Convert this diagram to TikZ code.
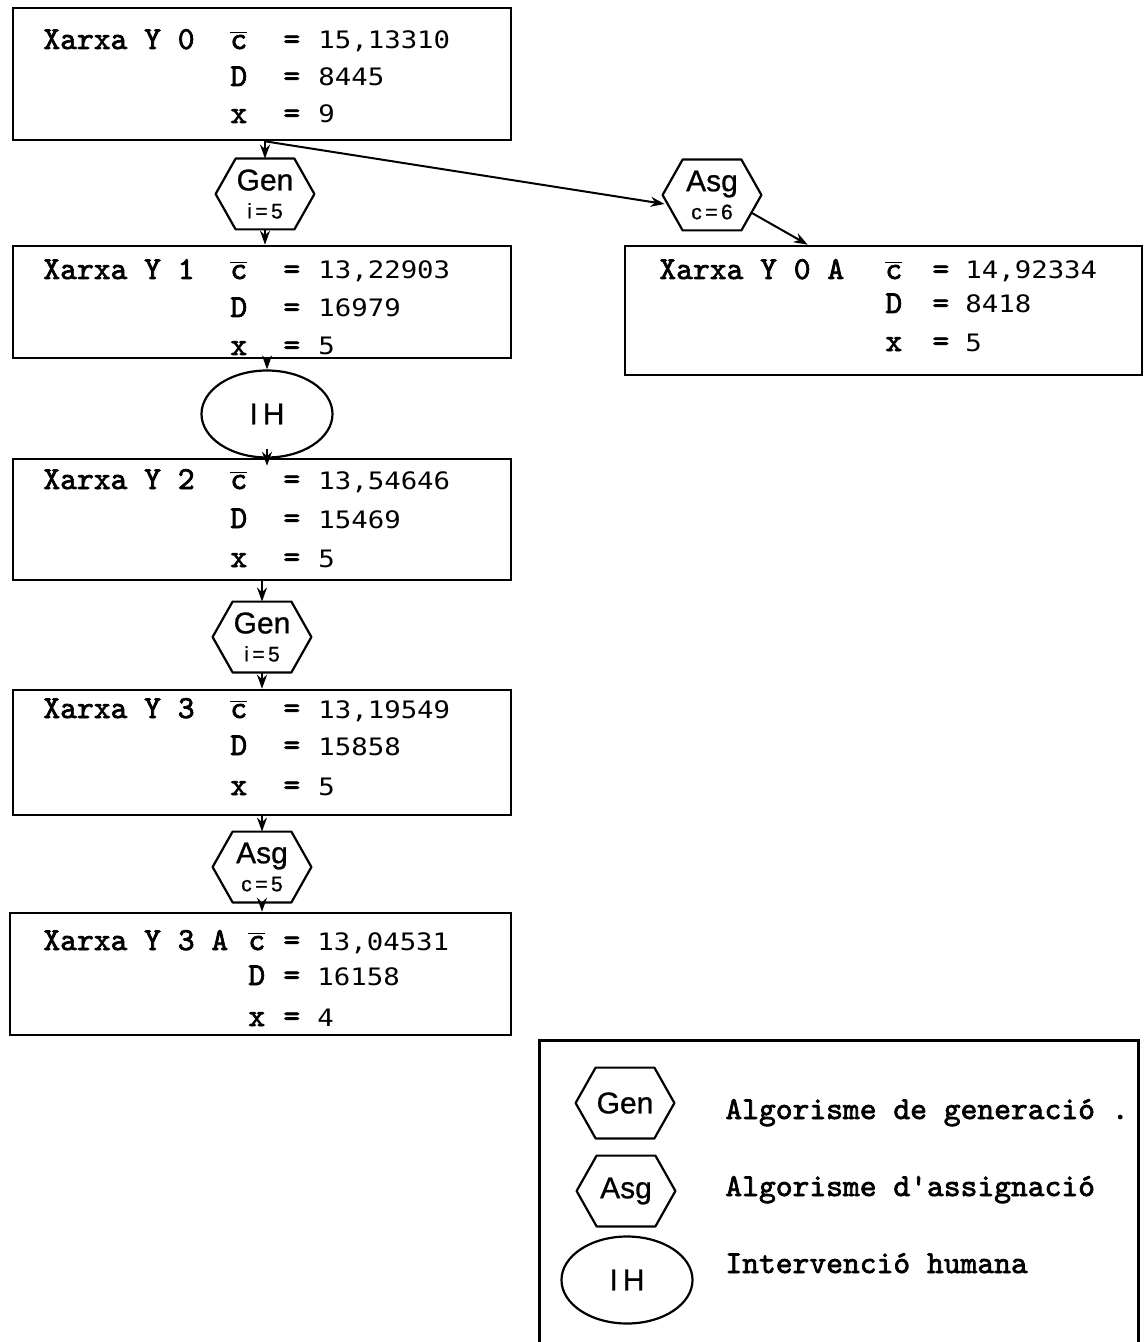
\documentclass[tikz,border=0pt]{standalone}
\usepackage{fontspec}
\usetikzlibrary{arrows.meta,fit,calc,shapes.geometric}
\newfontfamily\twfont[FakeBold=2.2]{lmmono10-regular.otf}
\newfontfamily\digfont[FakeStretch=1.14]{DejaVu Sans Mono}
\newfontfamily\hxfont[FakeBold=0.8]{Liberation Sans}
\newcommand{\lblf}{\twfont\fontsize{16}{18}\selectfont}
\newcommand{\numf}{\digfont\fontsize{12}{14}\selectfont}
\newcommand{\hxf}{\hxfont\fontsize{15}{14}\selectfont}
\newcommand{\smallhx}{\hxfont\fontsize{10.5}{14}\selectfont}
\newcommand{\cb}{$\overline{\hbox{c}}$}
\newcommand{\valrow}[4]{\makebox[#1][l]{#2}\makebox[#3][l]{=}{\numf #4}}
\newcommand{\hexpath}[1]{\draw[hexline] (#1.west) -- ([xshift=10pt]#1.north west) -- ([xshift=-10pt]#1.north east) -- (#1.east) -- ([xshift=-10pt]#1.south east) -- ([xshift=10pt]#1.south west) -- cycle;}
\tikzset{
  netbox/.style={draw, line width=1.3pt, inner sep=0pt},
  frame/.style={line width=1.3pt},
  txt/.style={anchor=base west, inner sep=0pt, font=\lblf},
  flow/.style={line width=1pt, -{Stealth[length=7pt,width=5pt]}},
  hexlbl/.style={inner sep=0pt, minimum width=49pt, minimum height=35pt, align=center, font=\hxf},
  hexline/.style={line width=1.1pt, line join=round},
  ih/.style={draw, ellipse, line width=1.1pt, minimum width=65.5pt, minimum height=43.5pt, inner sep=0pt, font=\hxf},
}
\begin{document}
\begin{tikzpicture}[x=0.5pt,y=-0.5pt]
\useasboundingbox (0,0) rectangle (1145,1342);

% ---- Y0
\node[netbox, fit={(13,8) (511,140)}] (y0) {};
\node[txt] (y0l) at (43,49) {Xarxa Y 0};
\node[txt] (y0r1) at (230,49) {\valrow{26.5pt}{\cb}{17.5pt}{15,13310}};
\node[txt] (y0r2) at (230,86) {\valrow{26.5pt}{D}{17.5pt}{8445}};
\node[txt] (y0r3) at (230,123) {\valrow{26.5pt}{x}{17.5pt}{9}};

% ---- Gen 1
\node[hexlbl] (g1) at (265,194) {Gen\\{\smallhx i\,=\,5}};
\hexpath{g1}

% ---- Y1
\node[netbox, fit={(13,246) (511,358)}] (y1) {};
\node[txt] (y1l) at (43,279) {Xarxa Y 1};
\node[txt] (y1r1) at (230,279) {\valrow{26.5pt}{\cb}{17.5pt}{13,22903}};
\node[txt] (y1r2) at (230,317) {\valrow{26.5pt}{D}{17.5pt}{16979}};
\node[txt] (y1r3) at (230,355) {\valrow{26.5pt}{x}{17.5pt}{5}};

% ---- IH
\node[ih] (ih) at (267,414) {I\,H};

% ---- Y2
\node[netbox, fit={(13,459) (511,580)}] (y2) {};
\node[txt] (y2l) at (43,489) {Xarxa Y 2};
\node[txt] (y2r1) at (230,489) {\valrow{26.5pt}{\cb}{17.5pt}{13,54646}};
\node[txt] (y2r2) at (230,528) {\valrow{26.5pt}{D}{17.5pt}{15469}};
\node[txt] (y2r3) at (230,567) {\valrow{26.5pt}{x}{17.5pt}{5}};

% ---- Gen 2
\node[hexlbl] (g2) at (262,637) {Gen\\{\smallhx i\,=\,5}};
\hexpath{g2}

% ---- Y3
\node[netbox, fit={(13,690) (511,815)}] (y3) {};
\node[txt] (y3l) at (43,718) {Xarxa Y 3};
\node[txt] (y3r1) at (230,718) {\valrow{26.5pt}{\cb}{17.5pt}{13,19549}};
\node[txt] (y3r2) at (230,755) {\valrow{26.5pt}{D}{17.5pt}{15858}};
\node[txt] (y3r3) at (230,795) {\valrow{26.5pt}{x}{17.5pt}{5}};

% ---- Asg 2
\node[hexlbl] (a2) at (262,867) {Asg\\{\smallhx c\,=\,5}};
\hexpath{a2}

% ---- Y3A
\node[netbox, fit={(10,913) (511,1035)}] (y3a) {};
\node[txt] (y3al) at (43,950) {Xarxa Y 3 A};
\node[txt] (y3ar1) at (248,950) {\valrow{17.5pt}{\cb}{17pt}{13,04531}};
\node[txt] (y3ar2) at (248,985) {\valrow{17.5pt}{D}{17pt}{16158}};
\node[txt] (y3ar3) at (248,1026) {\valrow{17.5pt}{x}{17pt}{4}};

% ---- Asg 1
\node[hexlbl] (a1) at (712,195) {Asg\\{\smallhx c\,=\,6}};
\hexpath{a1}

% ---- Y0A
\node[netbox, fit={(625,246) (1142,375)}] (y0a) {};
\node[txt] (y0al) at (659,279) {Xarxa Y 0 A};
\node[txt] (y0ar1) at (885,279) {\valrow{23.5pt}{\cb}{16.5pt}{14,92334}};
\node[txt] (y0ar2) at (885,313) {\valrow{23.5pt}{D}{16.5pt}{8418}};
\node[txt] (y0ar3) at (885,351) {\valrow{23.5pt}{x}{16.5pt}{5}};

% ---- connectors
\draw[flow] (y0.south -| g1.north) -- (g1.north);
\draw[flow] (g1.south) -- (g1.south |- y1.north);
\draw[flow] (y1.south -| ih.north) -- (ih.north);
\draw[flow] ([yshift=5pt]ih.south) -- ([yshift=-4pt]ih.south |- y2.north);
\draw[flow] (y2.south -| g2.north) -- (g2.north);
\draw[flow] (g2.south) -- (g2.south |- y3.north);
\draw[flow] (y3.south -| a2.north) -- (a2.north);
\draw[flow] (a2.south) -- (a2.south |- y3a.north);
\draw[flow] (y0.south -| g1.north) -- ([shift={(1pt,-4.5pt)}]a1.west);
\draw[flow] ($(a1.east)!0.5!([xshift=-10pt]a1.south east)$) -- ([xshift=92pt]y0a.north west);

% ---- legend
\node[inner sep=0pt, fit={(540,1041) (1138,1342)}] (leg) {};
\draw[frame] (leg.south west) -- (leg.north west) -- (leg.north east) -- (leg.south east);
\node[hexlbl] (lg) at (625,1103) {Gen};
\hexpath{lg}
\node[hexlbl] (la) at (626,1191) {Asg};
\hexpath{la}
\node[ih] (lih) at (627,1280) {I\,H};
\node[txt] (lgt) at (725,1119) {Algorisme de generació .};
\node[txt] (lat) at (725,1196) {Algorisme d'assignació};
\node[txt] (liht) at (725,1273) {Intervenció humana};
\end{tikzpicture}
\end{document}
